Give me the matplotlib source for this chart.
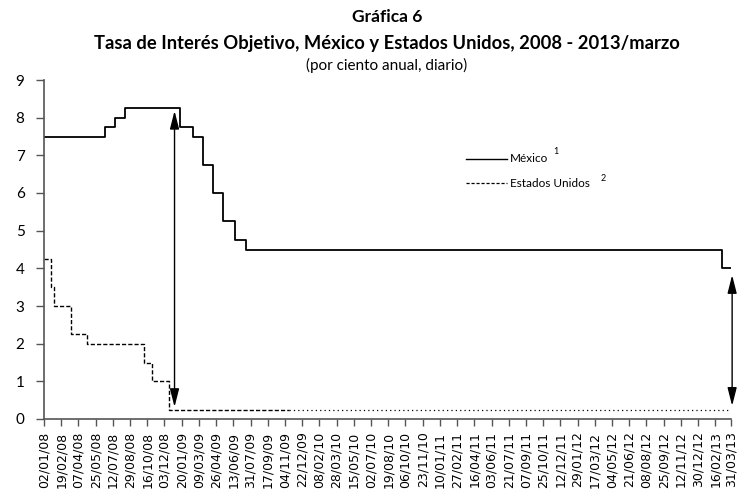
import numpy as np
import pandas as pd
import matplotlib
matplotlib.use("Agg")
import matplotlib.pyplot as plt
from matplotlib.lines import Line2D

# Tasa objetivo Banxico (fecha de cambio, nivel)
mx_dates = ["2008-01-02", "2008-06-20", "2008-07-18", "2008-08-15", "2009-01-16",
            "2009-02-20", "2009-03-20", "2009-04-17", "2009-05-15", "2009-06-19",
            "2009-07-17", "2013-03-08", "2013-03-31"]
mx_rates = [7.50, 7.75, 8.00, 8.25, 7.75, 7.50, 6.75, 6.00, 5.25, 4.75, 4.50, 4.00, 4.00]

# Fed funds objetivo
us_dates = ["2008-01-02", "2008-01-22", "2008-01-30", "2008-03-18", "2008-04-30",
            "2008-10-08", "2008-10-29", "2008-12-16", "2009-11-15", "2013-03-31"]
us_rates = [4.25, 3.50, 3.00, 2.25, 2.00, 1.50, 1.00, 0.25, 0.25, 0.25]

tick_labels = ["02/01/08", "19/02/08", "07/04/08", "25/05/08", "12/07/08", "29/08/08",
               "16/10/08", "03/12/08", "20/01/09", "09/03/09", "26/04/09", "13/06/09",
               "31/07/09", "17/09/09", "04/11/09", "22/12/09", "08/02/10", "28/03/10",
               "15/05/10", "02/07/10", "19/08/10", "06/10/10", "23/11/10", "10/01/11",
               "27/02/11", "16/04/11", "03/06/11", "21/07/11", "07/09/11", "25/10/11",
               "12/12/11", "29/01/12", "17/03/12", "04/05/12", "21/06/12", "08/08/12",
               "25/09/12", "12/11/12", "30/12/12", "16/02/13", "31/03/13"]

# flechas del diferencial (fecha, desde, hasta)
arrow_dates = ["2008-12-31", "2013-04-04"]
arrow_low = [0.32, 0.35]
arrow_high = [8.18, 3.82]

mx_d = pd.to_datetime(mx_dates)
us_d = pd.to_datetime(us_dates)
ticks = pd.to_datetime(tick_labels, format="%d/%m/%y")

fig = plt.figure(figsize=(7.46, 4.95), dpi=100)
ax = fig.add_axes([44 / 746, 76 / 495, 686.7 / 746, 339 / 495])

ax.plot(mx_d, mx_rates, drawstyle="steps-post", color="black", lw=1.3)
# la serie de EU cambia de guiones a puntos a partir de nov-09
split = 8
ax.plot(us_d[:split + 1], us_rates[:split + 1], drawstyle="steps-post",
        color="black", lw=1.0, linestyle=(0, (3, 1.5)))
ax.plot(us_d[split:], us_rates[split:], drawstyle="steps-post",
        color="black", lw=0.9, linestyle=(0, (1, 2.5)))

for d, lo, hi in zip(pd.to_datetime(arrow_dates), arrow_low, arrow_high):
    ax.annotate("", xy=(d, hi), xytext=(d, lo), annotation_clip=False,
                arrowprops=dict(arrowstyle="<|-|>,head_length=1.1,head_width=0.28",
                                color="black", lw=1.0, shrinkA=0, shrinkB=0,
                                mutation_scale=10))

ax.set_xlim(ticks[0], ticks[-1])
ax.set_ylim(0, 9)
ax.set_yticks(range(10))
ax.set_xticks(ticks)
ax.set_xticklabels(tick_labels, rotation=90, fontsize=9, family="DejaVu Sans")
for lab in ax.get_yticklabels():
    lab.set_family("Lato")
    lab.set_fontsize(11)

for s in ["top", "right"]:
    ax.spines[s].set_visible(False)
for s in ["left", "bottom"]:
    ax.spines[s].set_color("#555555")
    ax.spines[s].set_linewidth(1.2)
ax.tick_params(axis="y", direction="out", length=6, width=1.0, color="#555555", pad=8)
ax.tick_params(axis="x", direction="out", length=5, width=1.0, color="#555555", pad=4)

# leyenda
ax.add_line(Line2D([0.6145, 0.6745], [0.767, 0.767], transform=ax.transAxes,
                   color="black", lw=1.0))
ax.add_line(Line2D([0.6145, 0.6745], [0.696, 0.696], transform=ax.transAxes,
                   color="black", lw=0.9, linestyle=(0, (2.5, 1.5))))
ax.text(0.679, 0.767, "México", transform=ax.transAxes, fontsize=8.5,
        family="Lato", va="center")
ax.text(0.742, 0.79, "1", transform=ax.transAxes, fontsize=6.5,
        family="Lato", va="center")
ax.text(0.679, 0.696, "Estados Unidos", transform=ax.transAxes, fontsize=8.5,
        family="Lato", va="center")
ax.text(0.811, 0.71, "2", transform=ax.transAxes, fontsize=6.5,
        family="Lato", va="center")

cx = 387 / 746
fig.text(cx, 1 - 17 / 495, "Gráfica 6", ha="center", va="center",
         fontsize=12.5, family="Lato", weight="bold")
fig.text(cx, 1 - 43 / 495,
         "Tasa de Interés Objetivo, México y Estados Unidos, 2008 - 2013/marzo",
         ha="center", va="center", fontsize=13.2, family="Lato", weight="bold")
fig.text(cx, 1 - 65 / 495, "(por ciento anual, diario)", ha="center", va="center",
         fontsize=11, family="Lato")

fig.savefig("out.png", dpi=100)
